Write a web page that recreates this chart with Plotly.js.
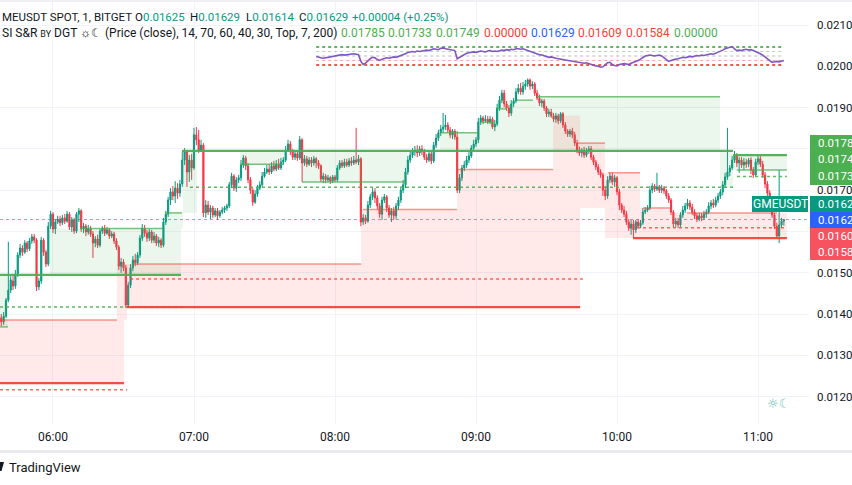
<!DOCTYPE html>
<html><head><meta charset="utf-8">
<script src="https://cdn.plot.ly/plotly-3.0.1.min.js"></script>
<style>html,body{margin:0;padding:0;background:#fff;overflow:hidden}#chart{width:852px;height:485px}</style>
</head><body><div id="chart"></div>
<script>
// ---------- DATA ----------
const DAY = '2024-05-14 ';
const firstBar = '05:38';           // first 1-minute candle
const openP = [
0.01391,0.01381,0.01395,0.01434,0.01458,0.01480,0.01468,0.01497,0.01543,0.01560,
0.01550,0.01572,0.01558,0.01577,0.01587,0.01579,0.01466,0.01480,0.01579,0.01550,
0.01521,0.01613,0.01642,0.01606,0.01623,0.01630,0.01621,0.01633,0.01625,0.01642,
0.01611,0.01628,0.01601,0.01642,0.01650,0.01606,0.01613,0.01599,0.01608,0.01594,
0.01572,0.01582,0.01567,0.01601,0.01608,0.01596,0.01604,0.01589,0.01594,0.01577,
0.01562,0.01516,0.01526,0.01512,0.01422,0.01470,0.01512,0.01531,0.01524,0.01543,
0.01584,0.01608,0.01596,0.01584,0.01599,0.01579,0.01589,0.01572,0.01579,0.01567,
0.01623,0.01642,0.01676,0.01696,0.01686,0.01705,0.01693,0.01715,0.01773,0.01793,
0.01744,0.01773,0.01754,0.01834,0.01822,0.01797,0.01809,0.01645,0.01664,0.01647,
0.01657,0.01640,0.01650,0.01638,0.01647,0.01652,0.01657,0.01662,0.01713,0.01734,
0.01705,0.01725,0.01730,0.01761,0.01778,0.01759,0.01725,0.01700,0.01671,0.01691,
0.01705,0.01713,0.01734,0.01744,0.01751,0.01744,0.01759,0.01751,0.01763,0.01754,
0.01768,0.01773,0.01797,0.01812,0.01793,0.01780,0.01788,0.01778,0.01822,0.01766,
0.01776,0.01763,0.01773,0.01766,0.01776,0.01766,0.01759,0.01727,0.01734,0.01725,
0.01730,0.01722,0.01732,0.01725,0.01754,0.01766,0.01759,0.01768,0.01761,0.01771,
0.01766,0.01773,0.01768,0.01776,0.01623,0.01633,0.01625,0.01664,0.01684,0.01696,
0.01681,0.01662,0.01642,0.01676,0.01684,0.01657,0.01640,0.01650,0.01638,0.01662,
0.01676,0.01700,0.01713,0.01744,0.01773,0.01785,0.01793,0.01797,0.01790,0.01800,
0.01793,0.01780,0.01773,0.01788,0.01771,0.01809,0.01826,0.01839,0.01848,0.01853,
0.01858,0.01846,0.01834,0.01843,0.01829,0.01700,0.01730,0.01754,0.01761,0.01773,
0.01783,0.01802,0.01812,0.01822,0.01865,0.01875,0.01868,0.01872,0.01865,0.01872,
0.01853,0.01860,0.01899,0.01918,0.01935,0.01909,0.01899,0.01887,0.01909,0.01916,
0.01938,0.01947,0.01938,0.01952,0.01957,0.01967,0.01952,0.01957,0.01935,0.01923,
0.01911,0.01916,0.01899,0.01885,0.01889,0.01880,0.01872,0.01880,0.01868,0.01885,
0.01858,0.01843,0.01836,0.01843,0.01834,0.01814,0.01797,0.01790,0.01797,0.01785,
0.01795,0.01800,0.01780,0.01768,0.01756,0.01744,0.01737,0.01700,0.01686,0.01725,
0.01734,0.01720,0.01730,0.01696,0.01664,0.01652,0.01642,0.01623,0.01608,0.01618,
0.01604,0.01623,0.01613,0.01621,0.01647,0.01652,0.01657,0.01700,0.01710,0.01703,
0.01708,0.01700,0.01705,0.01698,0.01686,0.01676,0.01647,0.01618,0.01625,0.01616,
0.01640,0.01652,0.01662,0.01669,0.01659,0.01647,0.01638,0.01630,0.01638,0.01633,
0.01642,0.01647,0.01662,0.01669,0.01664,0.01676,0.01686,0.01696,0.01713,0.01732,
0.01744,0.01754,0.01773,0.01785,0.01766,0.01773,0.01761,0.01768,0.01763,0.01773,
0.01749,0.01737,0.01768,0.01776,0.01763,0.01737,0.01715,0.01693,0.01667,0.01640,
0.01613,0.01589,0.01616,0.01625];
const closeP = [
0.01381,0.01395,0.01434,0.01458,0.01483,0.01468,0.01497,0.01543,0.01560,0.01550,
0.01572,0.01558,0.01577,0.01587,0.01579,0.01466,0.01480,0.01579,0.01550,0.01521,
0.01613,0.01642,0.01606,0.01623,0.01630,0.01621,0.01633,0.01625,0.01642,0.01611,
0.01628,0.01601,0.01642,0.01650,0.01606,0.01613,0.01599,0.01608,0.01594,0.01572,
0.01582,0.01567,0.01601,0.01608,0.01596,0.01604,0.01589,0.01594,0.01577,0.01562,
0.01516,0.01526,0.01512,0.01422,0.01470,0.01512,0.01531,0.01524,0.01543,0.01584,
0.01608,0.01596,0.01584,0.01599,0.01579,0.01589,0.01572,0.01579,0.01567,0.01623,
0.01642,0.01676,0.01696,0.01686,0.01705,0.01693,0.01715,0.01773,0.01793,0.01744,
0.01773,0.01754,0.01834,0.01822,0.01797,0.01809,0.01645,0.01664,0.01647,0.01657,
0.01640,0.01650,0.01638,0.01647,0.01652,0.01657,0.01662,0.01713,0.01734,0.01705,
0.01725,0.01730,0.01761,0.01778,0.01759,0.01725,0.01700,0.01671,0.01691,0.01705,
0.01713,0.01734,0.01744,0.01751,0.01744,0.01759,0.01751,0.01763,0.01754,0.01768,
0.01773,0.01797,0.01812,0.01793,0.01780,0.01788,0.01778,0.01822,0.01766,0.01776,
0.01763,0.01773,0.01766,0.01776,0.01766,0.01759,0.01727,0.01734,0.01725,0.01730,
0.01722,0.01732,0.01725,0.01754,0.01766,0.01759,0.01768,0.01761,0.01771,0.01766,
0.01773,0.01768,0.01776,0.01623,0.01633,0.01625,0.01664,0.01684,0.01696,0.01681,
0.01662,0.01642,0.01676,0.01684,0.01657,0.01640,0.01650,0.01638,0.01662,0.01676,
0.01700,0.01713,0.01744,0.01773,0.01785,0.01793,0.01797,0.01790,0.01800,0.01793,
0.01780,0.01773,0.01788,0.01771,0.01809,0.01826,0.01839,0.01848,0.01853,0.01858,
0.01846,0.01834,0.01843,0.01829,0.01700,0.01730,0.01754,0.01761,0.01773,0.01783,
0.01802,0.01812,0.01822,0.01865,0.01875,0.01868,0.01872,0.01865,0.01872,0.01853,
0.01860,0.01899,0.01918,0.01935,0.01909,0.01899,0.01887,0.01909,0.01916,0.01938,
0.01947,0.01938,0.01952,0.01957,0.01967,0.01952,0.01957,0.01935,0.01923,0.01911,
0.01916,0.01899,0.01885,0.01889,0.01880,0.01872,0.01880,0.01868,0.01885,0.01858,
0.01843,0.01836,0.01843,0.01834,0.01814,0.01797,0.01790,0.01797,0.01785,0.01795,
0.01800,0.01780,0.01768,0.01756,0.01744,0.01737,0.01700,0.01686,0.01725,0.01734,
0.01720,0.01730,0.01696,0.01664,0.01652,0.01642,0.01623,0.01608,0.01618,0.01604,
0.01623,0.01613,0.01621,0.01647,0.01652,0.01657,0.01700,0.01710,0.01703,0.01708,
0.01700,0.01705,0.01698,0.01686,0.01676,0.01647,0.01618,0.01625,0.01616,0.01640,
0.01652,0.01662,0.01669,0.01659,0.01647,0.01638,0.01630,0.01638,0.01633,0.01642,
0.01647,0.01662,0.01669,0.01664,0.01676,0.01686,0.01696,0.01713,0.01732,0.01744,
0.01754,0.01773,0.01785,0.01766,0.01773,0.01761,0.01768,0.01763,0.01773,0.01749,
0.01737,0.01768,0.01776,0.01763,0.01737,0.01715,0.01693,0.01667,0.01640,0.01613,
0.01589,0.01616,0.01625,0.01629];
const highP = [
0.01400,0.01405,0.01439,0.01575,0.01492,0.01497,0.01507,0.01550,0.01570,0.01567,
0.01579,0.01577,0.01584,0.01594,0.01594,0.01584,0.01487,0.01587,0.01584,0.01555,
0.01623,0.01650,0.01647,0.01630,0.01638,0.01638,0.01640,0.01642,0.01650,0.01647,
0.01635,0.01633,0.01647,0.01657,0.01654,0.01621,0.01618,0.01616,0.01613,0.01601,
0.01589,0.01592,0.01606,0.01613,0.01616,0.01611,0.01608,0.01601,0.01599,0.01584,
0.01567,0.01536,0.01533,0.01519,0.01478,0.01521,0.01541,0.01546,0.01550,0.01592,
0.01618,0.01616,0.01604,0.01606,0.01604,0.01599,0.01594,0.01587,0.01584,0.01633,
0.01650,0.01684,0.01705,0.01710,0.01722,0.01717,0.01725,0.01793,0.01802,0.01797,
0.01785,0.01788,0.01851,0.01853,0.01846,0.01822,0.01814,0.01676,0.01674,0.01664,
0.01662,0.01657,0.01657,0.01652,0.01659,0.01662,0.01667,0.01720,0.01742,0.01739,
0.01732,0.01737,0.01773,0.01785,0.01783,0.01766,0.01732,0.01705,0.01700,0.01713,
0.01722,0.01744,0.01754,0.01761,0.01763,0.01768,0.01771,0.01773,0.01776,0.01778,
0.01780,0.01807,0.01822,0.01819,0.01800,0.01797,0.01795,0.01831,0.01826,0.01785,
0.01783,0.01780,0.01780,0.01783,0.01780,0.01773,0.01763,0.01742,0.01739,0.01737,
0.01734,0.01737,0.01737,0.01761,0.01773,0.01773,0.01776,0.01776,0.01778,0.01780,
0.01783,0.01851,0.01785,0.01780,0.01642,0.01640,0.01674,0.01691,0.01705,0.01705,
0.01688,0.01669,0.01684,0.01691,0.01688,0.01664,0.01657,0.01659,0.01669,0.01684,
0.01708,0.01725,0.01754,0.01783,0.01795,0.01802,0.01807,0.01809,0.01807,0.01809,
0.01800,0.01788,0.01795,0.01793,0.01817,0.01836,0.01846,0.01858,0.01887,0.01882,
0.01865,0.01853,0.01848,0.01848,0.01843,0.01739,0.01761,0.01771,0.01783,0.01793,
0.01809,0.01822,0.01829,0.01875,0.01882,0.01880,0.01882,0.01880,0.01880,0.01877,
0.01870,0.01909,0.01928,0.01943,0.01943,0.01916,0.01906,0.01918,0.01923,0.01947,
0.01957,0.01960,0.01962,0.01967,0.01977,0.01972,0.01964,0.01962,0.01943,0.01931,
0.01921,0.01921,0.01904,0.01897,0.01897,0.01887,0.01887,0.01885,0.01889,0.01889,
0.01865,0.01848,0.01848,0.01851,0.01841,0.01822,0.01805,0.01802,0.01805,0.01802,
0.01807,0.01807,0.01785,0.01773,0.01763,0.01751,0.01742,0.01710,0.01734,0.01742,
0.01742,0.01737,0.01734,0.01703,0.01669,0.01662,0.01650,0.01630,0.01628,0.01628,
0.01628,0.01630,0.01628,0.01657,0.01659,0.01664,0.01710,0.01717,0.01715,0.01742,
0.01713,0.01713,0.01710,0.01703,0.01693,0.01681,0.01652,0.01633,0.01633,0.01647,
0.01662,0.01669,0.01679,0.01676,0.01667,0.01654,0.01645,0.01645,0.01645,0.01650,
0.01654,0.01671,0.01676,0.01679,0.01684,0.01693,0.01703,0.01722,0.01742,0.01851,
0.01761,0.01783,0.01795,0.01790,0.01780,0.01780,0.01778,0.01776,0.01778,0.01780,
0.01756,0.01776,0.01783,0.01783,0.01771,0.01744,0.01722,0.01700,0.01674,0.01645,
0.01621,0.01749,0.01633,0.01629];
const lowP = [
0.01371,0.01374,0.01391,0.01429,0.01451,0.01458,0.01461,0.01490,0.01536,0.01541,
0.01546,0.01550,0.01553,0.01570,0.01572,0.01456,0.01458,0.01473,0.01541,0.01514,
0.01516,0.01606,0.01596,0.01594,0.01618,0.01613,0.01616,0.01618,0.01621,0.01604,
0.01599,0.01594,0.01596,0.01623,0.01599,0.01596,0.01589,0.01592,0.01587,0.01536,
0.01562,0.01560,0.01562,0.01594,0.01589,0.01592,0.01582,0.01584,0.01570,0.01555,
0.01507,0.01500,0.01504,0.01415,0.01415,0.01463,0.01504,0.01516,0.01519,0.01536,
0.01577,0.01587,0.01575,0.01577,0.01572,0.01572,0.01565,0.01562,0.01560,0.01562,
0.01616,0.01635,0.01664,0.01676,0.01669,0.01679,0.01684,0.01708,0.01761,0.01708,
0.01720,0.01725,0.01749,0.01809,0.01790,0.01793,0.01635,0.01633,0.01640,0.01630,
0.01633,0.01635,0.01628,0.01633,0.01642,0.01645,0.01650,0.01657,0.01705,0.01698,
0.01696,0.01717,0.01722,0.01754,0.01749,0.01717,0.01691,0.01662,0.01667,0.01684,
0.01700,0.01708,0.01730,0.01739,0.01737,0.01739,0.01746,0.01746,0.01749,0.01749,
0.01761,0.01768,0.01793,0.01785,0.01773,0.01773,0.01771,0.01773,0.01720,0.01759,
0.01756,0.01759,0.01756,0.01759,0.01754,0.01751,0.01720,0.01717,0.01717,0.01720,
0.01715,0.01717,0.01720,0.01720,0.01749,0.01754,0.01754,0.01756,0.01756,0.01759,
0.01761,0.01763,0.01761,0.01613,0.01616,0.01618,0.01621,0.01657,0.01676,0.01669,
0.01654,0.01633,0.01628,0.01669,0.01647,0.01633,0.01623,0.01628,0.01630,0.01652,
0.01669,0.01693,0.01705,0.01737,0.01766,0.01778,0.01783,0.01780,0.01783,0.01785,
0.01773,0.01766,0.01768,0.01763,0.01766,0.01802,0.01819,0.01831,0.01839,0.01846,
0.01839,0.01826,0.01824,0.01822,0.01693,0.01693,0.01722,0.01746,0.01754,0.01766,
0.01778,0.01795,0.01805,0.01814,0.01858,0.01860,0.01863,0.01860,0.01860,0.01848,
0.01843,0.01855,0.01892,0.01911,0.01901,0.01892,0.01877,0.01880,0.01901,0.01911,
0.01933,0.01931,0.01931,0.01943,0.01950,0.01943,0.01945,0.01928,0.01918,0.01904,
0.01901,0.01892,0.01877,0.01877,0.01875,0.01865,0.01863,0.01860,0.01863,0.01851,
0.01836,0.01829,0.01829,0.01826,0.01807,0.01790,0.01783,0.01780,0.01778,0.01780,
0.01788,0.01773,0.01761,0.01749,0.01737,0.01730,0.01686,0.01676,0.01679,0.01717,
0.01713,0.01708,0.01688,0.01652,0.01645,0.01635,0.01616,0.01601,0.01592,0.01584,
0.01596,0.01608,0.01608,0.01616,0.01642,0.01647,0.01652,0.01693,0.01696,0.01698,
0.01693,0.01693,0.01691,0.01679,0.01669,0.01640,0.01611,0.01611,0.01608,0.01611,
0.01633,0.01645,0.01654,0.01652,0.01640,0.01630,0.01623,0.01625,0.01625,0.01628,
0.01633,0.01642,0.01654,0.01657,0.01659,0.01669,0.01679,0.01688,0.01705,0.01725,
0.01734,0.01749,0.01766,0.01756,0.01742,0.01754,0.01749,0.01754,0.01756,0.01739,
0.01730,0.01732,0.01761,0.01756,0.01730,0.01705,0.01686,0.01659,0.01633,0.01606,
0.01582,0.01572,0.01608,0.01614];

// RSI(14) of the last 200 bars, drawn in the indicator band
const rsiFirstBar = '07:52';
const rsiValues = [
49,47,46,45,46,47,
47,48,50,51,52,53,52,53,54,54,
55,54,53,38,31,34,40,44,47,46,
42,40,43,44,46,45,47,48,47,49,
51,52,55,58,59,60,59,61,60,61,
62,63,62,64,66,65,64,67,68,66,
65,64,63,62,44,47,50,53,56,57,
58,59,58,60,61,60,59,61,62,60,
61,60,62,63,62,64,63,65,64,66,
66,65,66,64,62,60,58,57,55,53,
52,50,48,47,48,46,45,44,43,42,
41,40,39,38,38,37,36,35,34,35,
33,32,30,28,27,25,26,30,35,36,
31,29,28,31,32,33,32,31,34,36,
37,40,43,47,50,51,52,51,50,51,
52,50,46,41,38,40,42,43,44,46,
47,46,48,49,48,50,51,50,52,51,
52,53,55,54,56,58,61,63,66,68,
70,71,66,62,63,62,64,65,63,64,
62,60,57,55,52,48,43,40,36,37,
38,37,39,40];
const rsiLevels = [70, 60, 50, 40, 30];

// RSI S&R levels: [start, end, price]
const greenMajor = [
  ['05:37:27','06:54:30',0.01495], ['06:54:54','10:49:24',0.01795], ['10:49:24','11:12:18',0.01785]];
const greenMinor = [
  ['05:37:27','05:40:50',0.01369], ['06:11:30','06:46:48',0.01607], ['06:47:40','06:54:54',0.01645],
  ['07:19:36','07:37:54',0.01763], ['07:46:00','08:30:36',0.01720], ['08:44:42','09:00:54',0.01839],
  ['09:01:42','09:08:06',0.01865], ['09:08:54','09:13:12',0.01897], ['09:17:24','09:24:18',0.01918],
  ['09:26:00','10:43:48',0.01926], ['10:51:00','11:12:18',0.01749]];
const greenDotted = [
  ['05:37:27','06:55:18',0.01417], ['06:58:18','10:50:12',0.01707], ['10:51:06','11:12:18',0.01733]];
const redMajor = [
  ['05:37:27','06:30:12',0.01233], ['06:31:30','09:44:18',0.01417], ['10:06:48','11:12:18',0.01584]];
const redMinor = [
  ['05:37:27','06:27:12',0.01386], ['06:34:00','08:11:06',0.01521], ['08:11:54','08:51:54',0.01653],
  ['08:51:54','09:32:48',0.01750], ['09:43:00','09:54:54',0.01814], ['09:56:12','10:09:48',0.01742],
  ['10:11:06','10:23:24',0.01657], ['10:29:48','11:08:06',0.01645]];
const redDotted = [
  ['05:37:27','06:31:30',0.01217], ['06:32:48','09:45:30',0.01485], ['10:08:30','11:12:18',0.01609]];
// zones: [start, end, low, high]
const greenZones = [
  ['05:37:27','05:40:50',0.01369,0.01495], ['05:58:42','06:54:30',0.01495,0.01607],
  ['06:47:40','06:55:18',0.01607,0.01645], ['06:55:18','07:01:18',0.01645,0.01795],
  ['07:19:36','07:37:54',0.01763,0.01795], ['07:46:00','08:30:36',0.01720,0.01795],
  ['08:44:42','09:00:54',0.01795,0.01839], ['09:00:54','09:08:54',0.01795,0.01865],
  ['09:08:54','09:26:00',0.01795,0.01918], ['09:26:00','10:43:48',0.01795,0.01926],
  ['10:43:48','10:49:24',0.01707,0.01795], ['10:49:24','11:12:18',0.01749,0.01785]];
const redZones = [
  ['05:37:27','06:30:12',0.01233,0.01386], ['06:27:12','06:31:30',0.01386,0.01521],
  ['06:31:30','08:11:06',0.01417,0.01521], ['08:11:06','08:51:54',0.01417,0.01653],
  ['08:51:54','09:32:48',0.01417,0.01750], ['09:32:48','09:44:18',0.01417,0.01880],
  ['09:44:18','09:54:54',0.01657,0.01814], ['09:54:54','10:09:48',0.01584,0.01742],
  ['10:09:48','10:23:24',0.01584,0.01657], ['10:23:24','11:12:18',0.01584,0.01645]];

const indicatorValues = ['0.01785','0.01733','0.01749','0.00000','0.01629','0.01609','0.01584','0.00000'];
const priceTicks = [0.012,0.013,0.014,0.015,0.016,0.017,0.018,0.019,0.020,0.021];
const priceTickText = ['0.0120','0.0130','0.0140','0.0150','','0.0170','','0.0190','0.0200','0.0210'];
const greenAxisLabels = ['0.0178','0.0174','0.0173'];
const lastLabels = ['0.0162','0.0162'];
const redAxisLabels = ['0.0160','0.0158'];
const symbolShown = 'MEUSDT';        // symbol as visible in the cropped legend
const symbol = 'GMEUSDT';

// ---------- BUILD ----------
function barTime(start, i) {
  const [h, m] = start.split(':').map(Number);
  const t = h * 60 + m + i;
  return DAY + String(Math.floor(t / 60)).padStart(2, '0') + ':' + String(t % 60).padStart(2, '0');
}
const times = closeP.map((_, i) => barTime(firstBar, i));
const rsiTimes = rsiValues.map((_, i) => barTime(rsiFirstBar, i));

const W = 809, H = 424;               // plot area in pixels
const px = x => x / W, py = y => 1 - y / H;
const FONT = 'Roboto, "Open Sans", sans-serif';
const GREEN = '#4caf50', RED = '#f44336', TEAL = '#089981', BLUE = '#2962ff';

const shapes = [];
greenZones.forEach(z => shapes.push({type:'rect', xref:'x', yref:'y', x0:DAY+z[0], x1:DAY+z[1], y0:z[2], y1:z[3],
  fillcolor:'rgba(76,175,80,0.11)', line:{width:0}, layer:'above'}));
redZones.forEach(z => shapes.push({type:'rect', xref:'x', yref:'y', x0:DAY+z[0], x1:DAY+z[1], y0:z[2], y1:z[3],
  fillcolor:'rgba(255,82,82,0.13)', line:{width:0}, layer:'above'}));
function addLines(arr, color, width, dash) {
  arr.forEach(s => shapes.push({type:'line', xref:'x', yref:'y', x0:DAY+s[0], x1:DAY+s[1], y0:s[2], y1:s[2],
    line:{color, width, dash}, layer:'above'}));
}
addLines(greenMinor, 'rgba(76,175,80,0.75)', 1.5, 'solid');
addLines(greenMajor, 'rgba(76,175,80,0.95)', 2.2, 'solid');
addLines(greenDotted, 'rgba(76,175,80,0.9)', 1.5, 'dot');
addLines(redMinor, 'rgba(244,67,54,0.55)', 1.5, 'solid');
addLines(redMajor, 'rgba(244,67,54,0.95)', 2.2, 'solid');
addLines(redDotted, 'rgba(244,67,54,0.8)', 1.5, 'dot');
// last price line
const lastIdx = closeP.length - 1;
shapes.push({type:'line', xref:'paper', yref:'y', x0:0, x1:1, y0:closeP[lastIdx], y1:closeP[lastIdx],
  line:{color:'rgba(8,153,129,0.6)', width:1, dash:'dot'}, layer:'above'});
// price-scale label boxes & frame
function box(x0, x1, y0, y1, color) {
  shapes.push({type:'rect', xref:'paper', yref:'paper', x0:px(x0), x1:px(x1), y0:py(y1), y1:py(y0),
    fillcolor:color, line:{width:0}, layer:'above'});
}
box(810, 860, 135, 185, GREEN);
box(752, 808, 196, 212, TEAL);
box(810, 860, 196, 212, TEAL);
box(810, 860, 212, 228, BLUE);
box(810, 860, 228, 260, '#f7525f');
box(-10, 860, 450, 453, '#e9ebf0');
box(-10, 860, -2, 2, '#eeeff2');
shapes.push({type:'path', xref:'paper', yref:'paper',
  path:`M ${px(0)} ${py(462)} L ${px(4)} ${py(462)} L ${px(1.5)} ${py(471)} L ${px(0)} ${py(471)} Z`,
  fillcolor:'#131722', line:{width:0}});

const ann = [];
function text(x, y, t, opts = {}) {
  ann.push(Object.assign({xref:'paper', yref:'paper', x:px(x), y:py(y), text:t, showarrow:false,
    xanchor:'left', yanchor:'middle', font:{family:FONT, size:12, color:'#131722'}}, opts));
}
const f5 = v => v.toFixed(5);
const o = openP[lastIdx], h = highP[lastIdx], l = lowP[lastIdx], c = closeP[lastIdx];
const chg = c - o, pct = chg / o * 100;
const tv = v => `<span style="color:${TEAL}">${v}</span>`;
const hdr = {family:FONT, size:11.5, color:'#131722'};
text(-0.5, 17, symbolShown + ' SPOT, 1, BITGET', {font:hdr});
text(133, 17, 'O' + tv(f5(o)), {font:hdr});
text(188, 17, 'H' + tv(f5(h)), {font:hdr});
text(244, 17, 'L' + tv(f5(l)), {font:hdr});
text(297, 17, 'C' + tv(f5(c)), {font:hdr});
text(350, 17, tv((chg >= 0 ? '+' : '') + f5(chg) + ' (' + (pct >= 0 ? '+' : '') + pct.toFixed(2) + '%)'), {font:hdr});
text(-0.5, 33, 'SI S&amp;R <span style="font-size:9px">BY</span> DGT ☼☾ (Price (close), 14, 70, 60, 40, 30, Top, 7, 200)');
const valColors = [GREEN, GREEN, GREEN, RED, BLUE, RED, RED, GREEN];
const valX = [339, 386, 434, 482, 529, 576, 624, 672];
indicatorValues.forEach((v, i) => text(valX[i], 33, v, {font:{family:FONT, size:12, color:valColors[i]}}));
const white = {family:FONT, size:11.5, color:'#ffffff'};
greenAxisLabels.forEach((v, i) => text(816, 143 + i * 16.5, v, {font:white}));
text(816, 204, lastLabels[0], {font:white});
text(816, 220, lastLabels[1], {font:white});
redAxisLabels.forEach((v, i) => text(816, 236 + i * 16, v, {font:white}));
text(780, 204, symbol, {xanchor:'center', font:{family:FONT, size:12, color:'#ffffff'}});
text(7, 467, 'TradingView', {font:{family:FONT, size:13, color:'#131722'}});
text(778, 403, '☼☾', {xanchor:'center', font:{family:'DejaVu Sans', size:13, color:'rgba(38,166,154,0.75)'}});

const traces = [
  {type:'candlestick', x:times, open:openP, high:highP, low:lowP, close:closeP,
   increasing:{line:{color:TEAL, width:1}, fillcolor:TEAL},
   decreasing:{line:{color:'#f23645', width:1}, fillcolor:'#f23645'},
   whiskerwidth:0, hoverinfo:'skip', showlegend:false}
];
const levelColors = ['rgba(76,175,80,0.9)','rgba(76,175,80,0.45)','rgba(120,123,134,0.5)','rgba(244,67,54,0.45)','rgba(244,67,54,0.9)'];
rsiLevels.forEach((lv, i) => traces.push({type:'scatter', mode:'lines', yaxis:'y2',
  x:[rsiTimes[0], rsiTimes[rsiTimes.length - 1]], y:[lv, lv],
  line:{color:levelColors[i], width:(i === 0 || i === 4) ? 1.8 : 1.2, dash:'dot'}, hoverinfo:'skip', showlegend:false}));
traces.push({type:'scatter', mode:'lines', x:rsiTimes, y:rsiValues, yaxis:'y2',
  line:{color:'#7e57c2', width:1.6}, hoverinfo:'skip', showlegend:false});

const layout = {
  width:852, height:485, margin:{l:0, r:43, t:0, b:61},
  paper_bgcolor:'#ffffff', plot_bgcolor:'#ffffff', showlegend:false,
  font:{family:FONT, size:12, color:'#131722'},
  xaxis:{type:'date', range:[DAY+'05:37:27', DAY+'11:21:42'], dtick:3600000, tick0:DAY+'06:00',
    tickformat:'%H:%M', showgrid:true, gridcolor:'#f0f3fa', zeroline:false, showline:false, ticks:'',
    ticklabelstandoff:4, tickfont:{family:FONT, size:12, color:'#131722'}, rangeslider:{visible:false}, fixedrange:true},
  yaxis:{side:'right', range:[0.0113389, 0.0216053], tickvals:priceTicks, ticktext:priceTickText,
    showgrid:true, gridcolor:'#f0f3fa', zeroline:false, showline:false, ticks:'', ticklabelstandoff:7,
    tickfont:{family:FONT, size:11.5, color:'#131722'}, fixedrange:true},
  yaxis2:{domain:[0.8149, 0.9210], range:[0, 100], visible:false, anchor:'x', fixedrange:true},
  shapes, annotations:ann
};
Plotly.newPlot('chart', traces, layout, {staticPlot:true, displayModeBar:false});
</script></body></html>
